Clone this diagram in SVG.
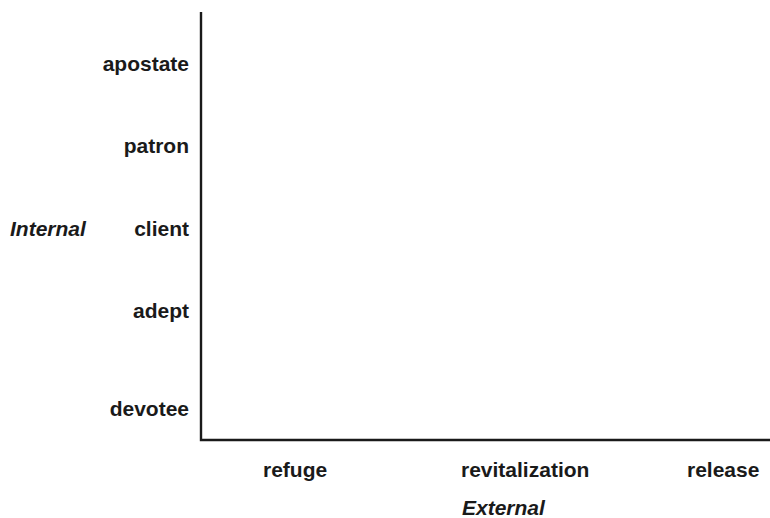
<svg xmlns="http://www.w3.org/2000/svg" width="770" height="518" viewBox="0 0 770 518">
<style>
.l{font-family:"Liberation Sans",Arial,sans-serif;font-size:21px;font-weight:bold;fill:#1a1a1a}
.r{text-anchor:end}
.i{font-style:italic}
.ax{stroke:#1a1a1a;stroke-width:2.4;fill:none}
</style>
<rect width="770" height="518" fill="#fff"/>
<g id="axes">
<path class="ax" d="M201,12 V440 H770"/>
</g>
<g id="y-labels">
<text class="l r" x="189" y="71">apostate</text>
<text class="l r" x="189" y="153">patron</text>
<text class="l r" x="189" y="236">client</text>
<text class="l r" x="189" y="318">adept</text>
<text class="l r" x="189" y="416">devotee</text>
<text class="l i" x="10" y="236">Internal</text>
</g>
<g id="x-labels">
<text class="l" x="263" y="477">refuge</text>
<text class="l" x="461" y="477">revitalization</text>
<text class="l" x="687" y="477">release</text>
<text class="l i" x="462" y="515">External</text>
</g>
</svg>
